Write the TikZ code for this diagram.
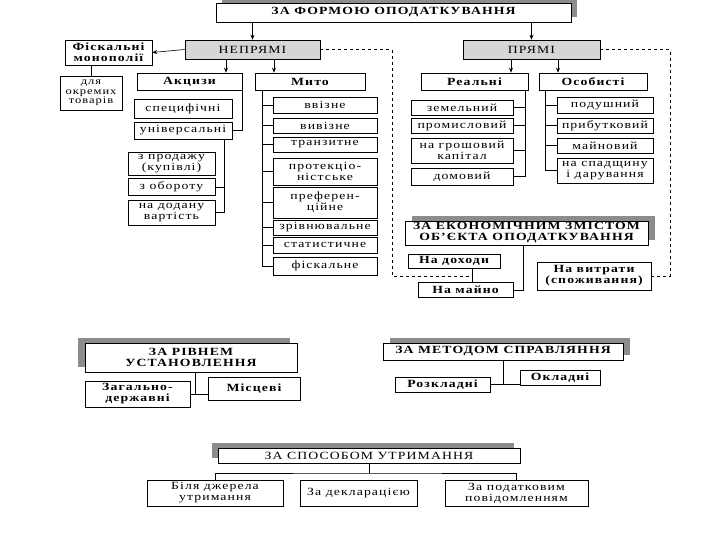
\documentclass[tikz,border=0pt]{standalone}
\usepackage{fontspec}
\setmainfont{Liberation Serif}[FakeStretch=1.25,LetterSpace=10]
\usetikzlibrary{arrows.meta,shadows}
\definecolor{shadowgrey}{HTML}{8C8C8C}
\definecolor{typebg}{HTML}{D6D6D6}

\begin{document}
\begin{tikzpicture}[x=1pt, y=-1pt,
    box/.style={rectangle, draw, semithick, fill=white, align=center, inner sep=0pt,
                font=\fontsize{11}{11}\selectfont},
    hdr/.style={box, font=\fontsize{11}{11}\selectfont\bfseries},
    shd/.style={general shadow={fill=shadowgrey, shadow xshift=#1, shadow yshift=5pt}},
    kind/.style={box, fill=typebg},
    bold/.style={box, font=\fontsize{11}{11}\selectfont\bfseries},
    item/.style={box},
    arr/.style={-{Stealth[length=5pt,width=4pt]}, semithick},
    link/.style={semithick},
    dsh/.style={semithick, dashed}
  ]
  \useasboundingbox (0,0) rectangle (720,540);

  % за формою оподаткування
  \node[hdr, shd=6pt, minimum width=355, minimum height=19] (forma) at (393.5,12.5) {ЗА ФОРМОЮ ОПОДАТКУВАННЯ};
  \node[kind, minimum width=135, minimum height=19] (nepr) at (252.5,49.5) {НЕПРЯМІ};
  \node[kind, minimum width=137, minimum height=19] (pr) at (531.5,49.5) {ПРЯМІ};

  \draw[arr] (nepr.north |- forma.south) -- (nepr.north);
  \draw[arr] (pr.north |- forma.south) -- (pr.north);

  \node[bold, minimum width=87, minimum height=25] (monop) at (108.5,52.5) {Фіскальні\\монополії};
  \node[item, font=\fontsize{10}{9.5}\selectfont, minimum width=62, minimum height=34] (okrem) at (91,93) {для\\окремих\\товарів};
  \draw[arr] (nepr.west) -- (monop.east);
  \draw[link] (okrem.north) -- (okrem.north |- monop.south);

  % непрямі
  \node[bold, minimum width=105, minimum height=17] (akc) at (189.5,81.5) {Акцизи};
  \node[bold, minimum width=110, minimum height=17] (myto) at (310,81.5) {Мито};
  \coordinate (a1) at ([xshift=-26.5pt]nepr.south);
  \coordinate (a2) at ([xshift=21.5pt]nepr.south);
  \draw[arr] (a1) -- (a1 |- akc.north);
  \draw[arr] (a2) -- (a2 |- myto.north);

  \node[item, minimum width=98, minimum height=19] (spec) at (183,108.5) {специфічні};
  \node[item, minimum width=98, minimum height=17] (univ) at (183,130.5) {універсальні};
  \draw[link] (akc.south east) |- (univ.east);

  \node[item, minimum width=87, minimum height=23] (prod) at (171.5,163.5) {з продажу\\(купівлі)};
  \node[item, minimum width=87, minimum height=17] (obor) at (171.5,187) {з обороту};
  \node[item, minimum width=87, minimum height=25] (dod) at (171.5,212.5) {на додану\\вартість};
  \coordinate (t2) at ([xshift=-8pt]univ.south east);
  \draw[link] (t2) |- (dod.east);
  \draw[link] (obor.east) -- (obor.east -| t2);

  \node[item, minimum width=104, minimum height=16] (vviz) at (325,105) {ввізне};
  \node[item, minimum width=104, minimum height=15] (vyviz) at (325,125.5) {вивізне};
  \node[item, minimum width=104, minimum height=15] (tranz) at (325,144.5) {транзитне};
  \node[item, minimum width=104, minimum height=27] (prot) at (325,171.5) {протекціо-\\ністське};
  \node[item, minimum width=104, minimum height=31] (pref) at (325,202.5) {преферен-\\ційне};
  \node[item, minimum width=104, minimum height=15] (zriv) at (325,227.5) {зрівнювальне};
  \node[item, minimum width=104, minimum height=16] (stat) at (325,245) {статистичне};
  \node[item, minimum width=104, minimum height=18] (fiskm) at (325,266) {фіскальне};
  \coordinate (tm) at ([xshift=8pt]myto.south west);
  \draw[link] (tm) |- (fiskm.west);
  \foreach \n in {vviz,vyviz,tranz,prot,pref,zriv,stat}
    \draw[link] (\n.west) -- (\n.west -| tm);

  % прямі
  \node[bold, minimum width=107, minimum height=17] (real) at (474.5,81.5) {Реальні};
  \node[bold, minimum width=108, minimum height=17] (osob) at (593,81.5) {Особисті};
  \coordinate (a3) at ([xshift=-20.5pt]pr.south);
  \coordinate (a4) at ([xshift=26.5pt]pr.south);
  \draw[arr] (a3) -- (a3 |- real.north);
  \draw[arr] (a4) -- (a4 |- osob.north);

  \node[item, minimum width=102, minimum height=15] (zem) at (462,107.5) {земельний};
  \node[item, minimum width=102, minimum height=15] (prom) at (462,125.5) {промисловий};
  \node[item, minimum width=102, minimum height=25] (grosh) at (462,150.5) {на грошовий\\капітал};
  \node[item, minimum width=102, minimum height=17] (dom) at (462,176.5) {домовий};
  \coordinate (tr) at ([xshift=-3pt]real.south east);
  \draw[link] (tr) |- (dom.east);
  \foreach \n in {zem,prom,grosh}
    \draw[link] (\n.east) -- (\n.east -| tr);

  \node[item, minimum width=96, minimum height=16] (podush) at (605,105) {подушний};
  \node[item, minimum width=96, minimum height=15] (prib) at (605,125.5) {прибутковий};
  \node[item, minimum width=96, minimum height=15] (main) at (605,145.5) {майновий};
  \node[item, minimum width=96, minimum height=25] (spad) at (605,170.5) {на спадщину\\і дарування};
  \coordinate (to) at ([xshift=7pt]osob.south west);
  \draw[link] (to) |- (spad.west);
  \foreach \n in {podush,prib,main}
    \draw[link] (\n.west) -- (\n.west -| to);

  % за економічним змістом
  \node[hdr, shd=7pt, minimum width=243, minimum height=24] (econ) at (526.5,233) {ЗА ЕКОНОМІЧНИМ ЗМІСТОМ\\ОБ'ЄКТА ОПОДАТКУВАННЯ};
  \node[bold, minimum width=92, minimum height=14] (dokh) at (454,261) {На доходи};
  \node[bold, minimum width=95, minimum height=15] (maino) at (465.5,290) {На майно};
  \node[bold, minimum width=114, minimum height=28] (vytr) at (594,276) {На витрати\\(споживання)};
  \draw[link] ([xshift=-3.5pt]econ.south) |- (maino.east);
  \coordinate (dm) at (472,276);
  \draw[link] (dm |- dokh.south) -- (dm |- maino.north);
  \coordinate (dl) at (392,276);
  \coordinate (dr) at (670,276);
  \draw[dsh] (nepr.east) -| (dl) -- (dm);
  \draw[dsh] (pr.east) -| (dr) -- (vytr.east);

  % за рівнем установлення
  \node[hdr, shd=-7pt, minimum width=212, minimum height=29] (riv) at (191,357.5) {ЗА РІВНЕМ\\УСТАНОВЛЕННЯ};
  \node[bold, minimum width=105, minimum height=26] (zag) at (137.5,394) {Загально-\\державні};
  \node[bold, minimum width=92, minimum height=23] (misc) at (254,389) {Місцеві};
  \draw[link] (zag.east) -- (zag.east -| misc.west);
  \draw[link] ([xshift=4pt]riv.south) -- ([xshift=4pt]riv.south |- zag.east);

  % за методом справляння
  \node[hdr, shd=7pt, minimum width=240, minimum height=17] (metod) at (503,351.5) {ЗА МЕТОДОМ СПРАВЛЯННЯ};
  \node[bold, minimum width=95, minimum height=15] (rozk) at (442.5,384.5) {Розкладні};
  \node[bold, minimum width=80, minimum height=15] (okl) at (560,377.5) {Окладні};
  \draw[link] (rozk.east) -- (rozk.east -| okl.west);
  \draw[link] (metod.south) -- (metod.south |- rozk.east);

  % за способом утримання
  \node[box, shd=-6pt, minimum width=302, minimum height=15] (sposib) at (369,455.5) {ЗА СПОСОБОМ УТРИМАННЯ};
  \node[item, minimum width=136, minimum height=26] (dzher) at (215,493) {Біля джерела\\утримання};
  \node[item, minimum width=117, minimum height=26] (dekl) at (358.5,493) {За декларацією};
  \node[item, minimum width=143, minimum height=26] (povid) at (516.5,493) {За податковим\\повідомленням};
  \coordinate (sj) at (369,473);
  \draw[link] (sposib.south) -- (sj);
  \draw[link] (dzher.north) |- (sj) -| (povid.north);
\end{tikzpicture}
\end{document}
